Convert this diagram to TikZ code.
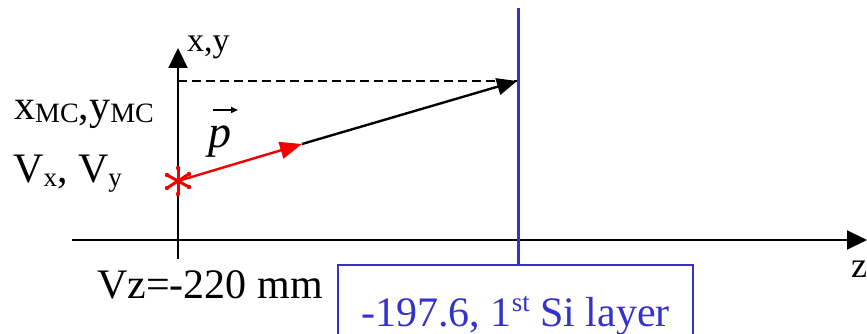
\documentclass[tikz,border=0pt]{standalone}
\usepackage{fontspec}
\setmainfont{Liberation Serif}
\usetikzlibrary{arrows.meta,calc}
\definecolor{siblue}{RGB}{51,51,204}
\definecolor{vred}{RGB}{240,0,0}
\newcommand{\sbs}[1]{\raisebox{-3pt}{\fontsize{28}{30}\selectfont #1}}
\begin{document}
\begin{tikzpicture}[x=1pt,y=1pt,
  axis/.style={line width=2.2pt,-{Triangle[length=20pt,width=19pt]}},
  lbl/.style={inner sep=0pt,anchor=base west,font=\fontsize{42}{46}\selectfont},
  smalllbl/.style={inner sep=0pt,anchor=base west,font=\fontsize{34}{38}\selectfont},
  layer/.style={siblue,line width=3pt},
  track/.style={line width=2.4pt,-{Triangle[length=20pt,width=17pt]}},
  arm/.style={vred,line width=3pt,line cap=round}]
\useasboundingbox (0,0) rectangle (867,334);
\clip (0,0) rectangle (867,334);
% coordinates
\coordinate (zl) at (72,94);
\coordinate (zr) at (867,94);
\coordinate (yb) at (178,75);
\coordinate (yt) at (178,286);
\coordinate (dl) at (178,253);
\coordinate (hit) at (517,253);
\coordinate (ltop) at (518,326);
\coordinate (redtip) at (302,190);
\coordinate (star) at (178,153);
% axes
\draw[axis] (zl) -- (zr);
\draw[axis] (yb) -- (yt);
% layer box and line
\node[draw=siblue,line width=2.2pt,inner sep=0pt,anchor=north,minimum width=355pt,
      text height=61pt,text depth=40pt,text=siblue,font=\fontsize{42}{46}\selectfont]
      (box) at (515.5,70) {-197.6, 1\raisebox{15pt}{\fontsize{27}{30}\selectfont st} Si layer};
\draw[layer] (ltop) -- (ltop |- box.north);
% dashed line
\draw[line width=1.8pt,dash pattern=on 9pt off 5pt] (dl) -- (hit);
% track
\draw[track,black] (redtip) -- (hit);
\draw[track,vred,-{Triangle[length=22pt,width=17pt]}] (star) -- (redtip);
% vertex star
\draw[arm] ($(star)+(0,13)$) -- ($(star)+(0,-13)$);
\draw[arm] ($(star)+(-11,6)$) -- ($(star)+(11,-6)$);
\draw[arm] ($(star)+(-11,-7)$) -- ($(star)+(11,7)$);
\foreach \dx/\dy in {0/13,0/-13,-11/6,11/-6,-11/-7,11/7}{
  \fill[vred] ($(star)+(\dx,\dy)$) circle (2.2pt);
}
% labels
\node[smalllbl] (xy) at (187,282) {x,y};
\node[lbl] (xmc) at (14,214) {x\sbs{MC},y\sbs{MC}};
\node[lbl] (vxy) at (13,151) {V\raisebox{-4pt}{\fontsize{27}{30}\selectfont x}, V\raisebox{-4pt}{\fontsize{27}{30}\selectfont y}};
\node[inner sep=0pt,anchor=base west,font=\fontsize{46}{50}\selectfont\itshape] (p) at (208,186) {p};
\draw[line width=1.6pt,-{Triangle[length=7pt,width=6pt]}] (213,224) -- (238,224);
\node[lbl] (vz) at (97,35) {Vz=-220 mm};
\node[inner sep=0pt,anchor=base west,font=\fontsize{36}{40}\selectfont] (zlbl) at (851,56) {z};
\end{tikzpicture}
\end{document}
